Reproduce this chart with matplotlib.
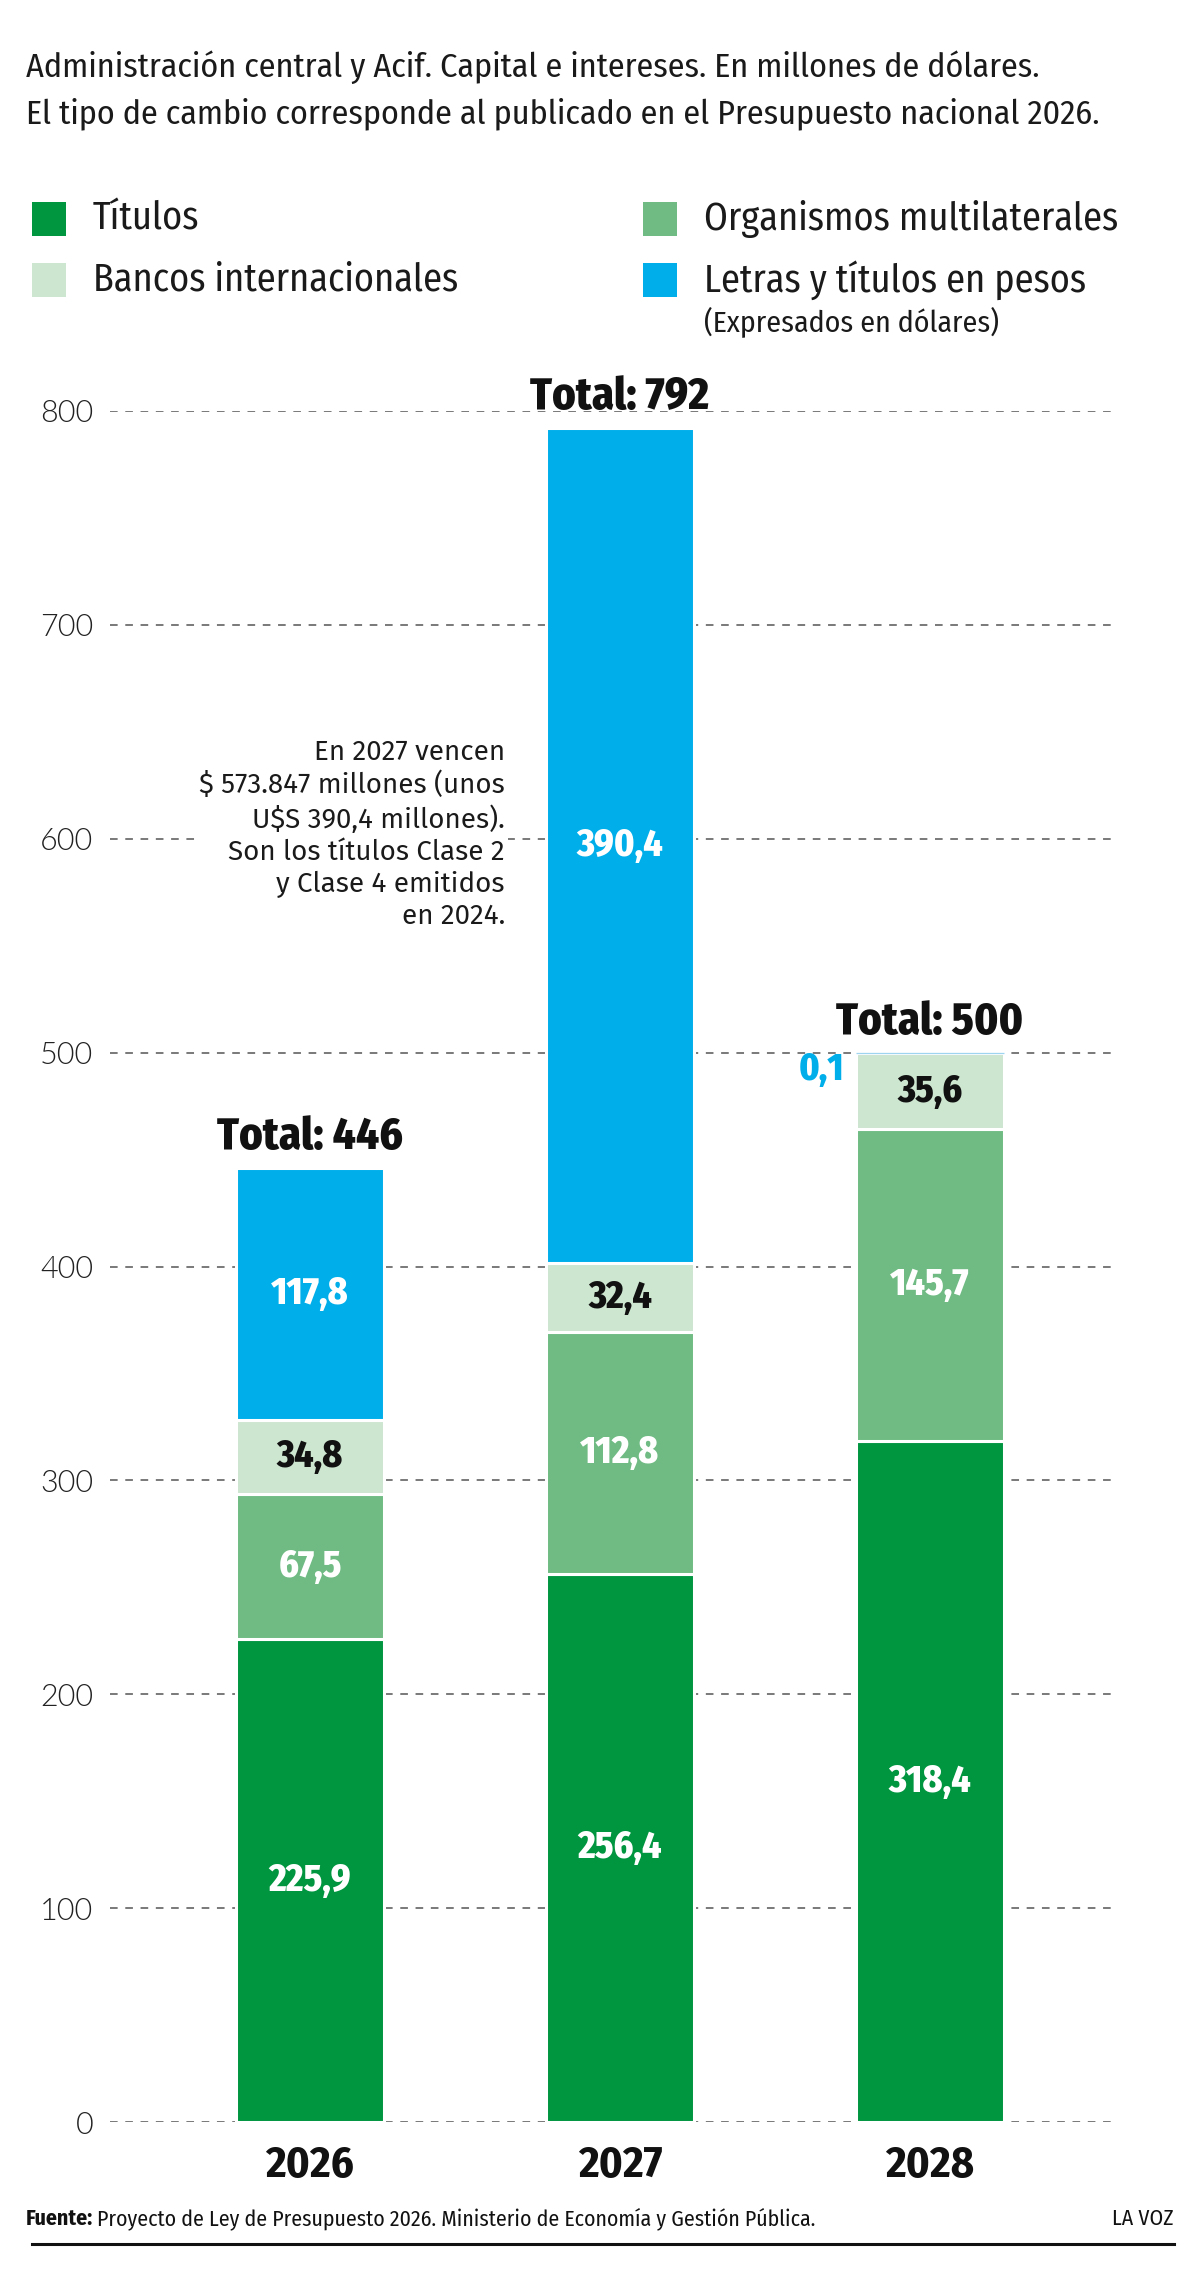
import matplotlib
matplotlib.use("Agg")
import matplotlib.pyplot as plt
from matplotlib.lines import Line2D
from matplotlib.patches import Rectangle
import numpy as np

plt.rcParams["font.family"] = ["Fira Sans Condensed", "DejaVu Sans"]
NOTE_FONT = ["Fira Sans", "DejaVu Sans"]
TICK_FONT = ["Lato", "DejaVu Sans"]

# datos (millones de dólares)
years = ["2026", "2027", "2028"]
titulos = [225.9, 256.4, 318.4]
organismos = [67.5, 112.8, 145.7]
bancos = [34.8, 32.4, 35.6]
letras = [117.8, 390.4, 0.1]
totales = [446, 792, 500]

series_names = ["Títulos", "Organismos multilaterales",
                "Bancos internacionales", "Letras y títulos en pesos"]
series_colors = ["#00953f", "#6fbb83", "#cde6d0", "#00aeea"]
label_colors = ["white", "white", "#111111", "white"]

title_lines = [
    "Administración central y Acif. Capital e intereses. En millones de dólares.",
    "El tipo de cambio corresponde al publicado en el Presupuesto nacional 2026.",
]
note = ("En 2027 vencen\n$ 573.847 millones (unos\nU$S 390,4 millones).\n"
        "Son los títulos Clase 2\ny Clase 4 emitidos\nen 2024.")

W, H = 1200, 2292
fig = plt.figure(figsize=(W / 100, H / 100), dpi=100)


def fx(px):
    return px / W


def fy(py):
    return 1 - py / H


def fmt(v):
    return f"{v:.1f}".replace(".", ",")


# titulo
fig.text(fx(26), fy(77), title_lines[0], fontsize=24.5, color="#1a1a1a", va="baseline")
fig.text(fx(26), fy(123), title_lines[1], fontsize=24.5, color="#1a1a1a", va="baseline")

# leyenda
legend_pos = [(32, 219), (643, 219), (32, 280), (643, 280)]
for (px, py), name, color in zip(legend_pos, series_names, series_colors):
    fig.add_artist(Rectangle((fx(px), fy(py + 17)), 34 / W, 34 / H,
                             transform=fig.transFigure, color=color, lw=0))
    fig.text(fx(px + 61), fy(py), name, fontsize=27.5, color="#1a1a1a", va="center")
fig.text(fx(704), fy(322), "(Expresados en dólares)", fontsize=21.5, color="#1a1a1a", va="center")

# grafico
ax = fig.add_axes([fx(110), fy(2122), fx(1111) - fx(110), fy(411) - fy(2122)])
x = np.arange(len(years))
width = 0.48
ax.set_xlim(-0.645, 2.584)
ax.set_ylim(0, 800)
ax.set_yticks(range(0, 801, 100))
ax.grid(axis="y", ls=(0, (5, 5)), color="#555555", lw=1.1)
ax.set_axisbelow(True)
for s in ax.spines.values():
    s.set_visible(False)
ax.tick_params(axis="y", length=0, pad=12, labelsize=22, labelcolor="#222222")
for lbl in ax.get_yticklabels():
    lbl.set_fontfamily(TICK_FONT)
    lbl.set_fontweight(300)
ax.set_xticks(x, years)
ax.tick_params(axis="x", length=0, pad=16, labelsize=32)
for lbl in ax.get_xticklabels():
    lbl.set_fontweight("bold")
    lbl.set_color("#111111")

bottom = np.zeros(len(years))
for vals, color, lc in zip([titulos, organismos, bancos, letras], series_colors, label_colors):
    vals = np.asarray(vals)
    edges = ["white" if v >= 1 else "#9fd4f0" for v in vals]
    lws = [2.2 if v >= 1 else 0.9 for v in vals]
    ax.bar(x, vals, width=width, bottom=bottom, color=color,
           edgecolor=edges, linewidth=lws, zorder=2)
    for xi, b, v in zip(x, bottom, vals):
        if v >= 10:
            ax.text(xi, b + v / 2, fmt(v), ha="center", va="center",
                    fontsize=27, fontweight=800, color=lc, zorder=3)
        else:
            ax.annotate(fmt(v), (xi - width / 2, b + v), xytext=(-8, -12),
                        textcoords="offset points", ha="right", va="center",
                        fontsize=27, fontweight=800, color=color,
                        annotation_clip=False)
    bottom += vals

for xi, t, top in zip(x, totales, bottom):
    ax.annotate(f"Total: {t}", (xi, top), xytext=(0, 22), textcoords="offset points",
                ha="center", va="center", fontsize=32, fontweight=800,
                color="#111111", annotation_clip=False)

ax.text(0.629, 602, note, ha="right", va="center", multialignment="right",
        fontsize=20, linespacing=1.25, color="#1a1a1a", zorder=3, family=NOTE_FONT,
        bbox=dict(facecolor="white", edgecolor="none", pad=2))

# fuente
src = fig.text(fx(26), fy(2219), "Fuente:", fontsize=15.7, fontweight="bold",
               color="#111111", va="center")
ax.annotate("Proyecto de Ley de Presupuesto 2026. Ministerio de Economía y Gestión Pública.",
            xy=(1, 0.5), xycoords=src, xytext=(3, 0), textcoords="offset points",
            ha="left", va="center", fontsize=15.7, color="#111111", annotation_clip=False)
fig.text(fx(1174), fy(2219), "LA VOZ", fontsize=15.7, color="#111111", ha="right", va="center")
fig.add_artist(Line2D([fx(32), fx(1174)], [fy(2244), fy(2244)], transform=fig.transFigure,
                      color="#111111", lw=2.2))

fig.savefig("out.png", dpi=100)
